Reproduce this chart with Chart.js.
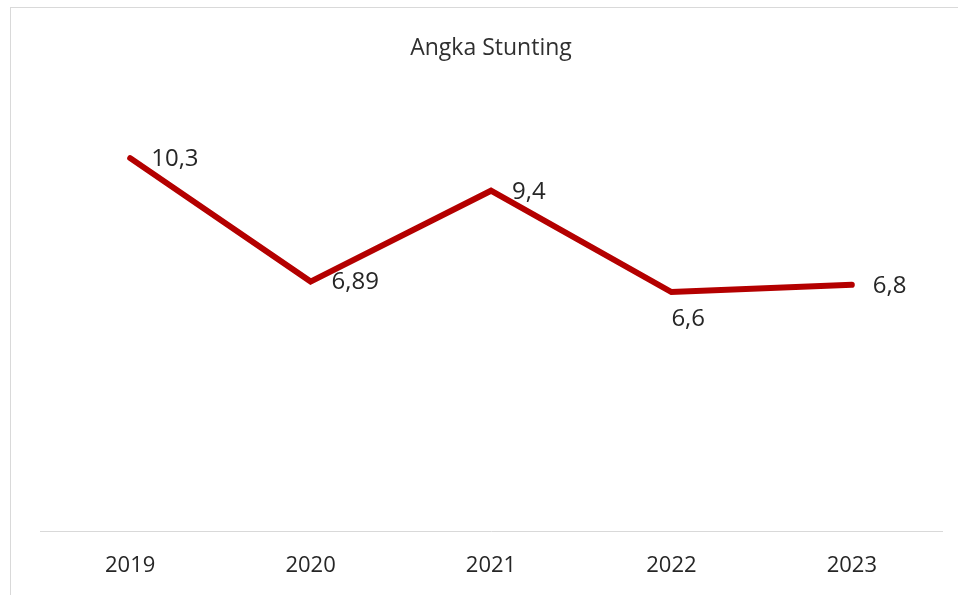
<!DOCTYPE html>
<html>
<head>
<meta charset="utf-8">
<script src="https://cdn.jsdelivr.net/npm/chart.js@4"></script>
<style>
  html, body { margin: 0; padding: 0; background: #fff; }
  #wrap { position: relative; width: 958px; height: 595px; overflow: hidden; }
  #frame { position: absolute; left: 10px; top: 7px; width: 1000px; height: 700px;
           border-left: 1px solid #d9d9d9; border-top: 1px solid #d9d9d9; }
  canvas { position: absolute; left: 0; top: 0; }
</style>
</head>
<body>
<div id="wrap">
  <div id="frame"></div>
  <canvas id="stuntingChart" width="958" height="595"></canvas>
</div>
<script>
/*************************************************
 * Data
 *************************************************/
const years = ["2019", "2020", "2021", "2022", "2023"];
const stunting = [10.3, 6.89, 9.4, 6.6, 6.8];
const labelText = ["10,3", "6,89", "9,4", "6,6", "6,8"];

/*************************************************
 * Data labels (simple inline plugin)
 *************************************************/
const valueLabels = {
    id: "valueLabels",
    afterDatasetsDraw(chart, args, opts) {
        const ctx = chart.ctx;
        const meta = chart.getDatasetMeta(0);
        ctx.save();
        ctx.font = opts.font;
        ctx.fillStyle = opts.color;
        ctx.textBaseline = "middle";
        ctx.textAlign = "left";
        meta.data.forEach((pt, i) => {
            const below = opts.below.includes(i);
            const x = below ? pt.x : pt.x + 21;
            const y = below ? pt.y + 27 : pt.y + 1;
            ctx.fillText(labelText[i], x, y);
        });
        ctx.restore();
    }
};

/*************************************************
 * Line Chart
 *************************************************/
const ctx = document.getElementById("stuntingChart");
const fontFamily = "'Open Sans', 'Noto Sans', sans-serif";

new Chart(ctx, {
    type: "line",
    data: {
        labels: years,
        datasets: [{
            data: stunting,
            borderColor: "#b40000",
            borderWidth: 6,
            borderCapStyle: "round",
            borderJoinStyle: "miter",
            pointRadius: 0,
            tension: 0
        }]
    },
    options: {
        responsive: false,
        animation: false,
        layout: { padding: { left: 40, right: 16, top: 0, bottom: 0 } },
        plugins: {
            legend: { display: false },
            tooltip: { enabled: false },
            title: {
                display: true,
                text: "Angka Stunting",
                color: "#303030",
                font: { family: fontFamily, size: 23, weight: "normal" },
                padding: { top: 35, bottom: 34 }
            },
            valueLabels: {
                font: "24px " + fontFamily,
                color: "#262626",
                below: [3]
            }
        },
        scales: {
            x: {
                offset: true,
                grid: { display: false, drawTicks: false },
                border: { display: true, color: "#d9d9d9", width: 1 },
                ticks: {
                    color: "#262626",
                    padding: 22,
                    font: { family: fontFamily, size: 22 }
                },
                afterFit(scale) { scale.height = 64; }
            },
            y: {
                display: false,
                min: 0,
                max: 12
            }
        }
    },
    plugins: [valueLabels]
});
</script>
</body>
</html>
